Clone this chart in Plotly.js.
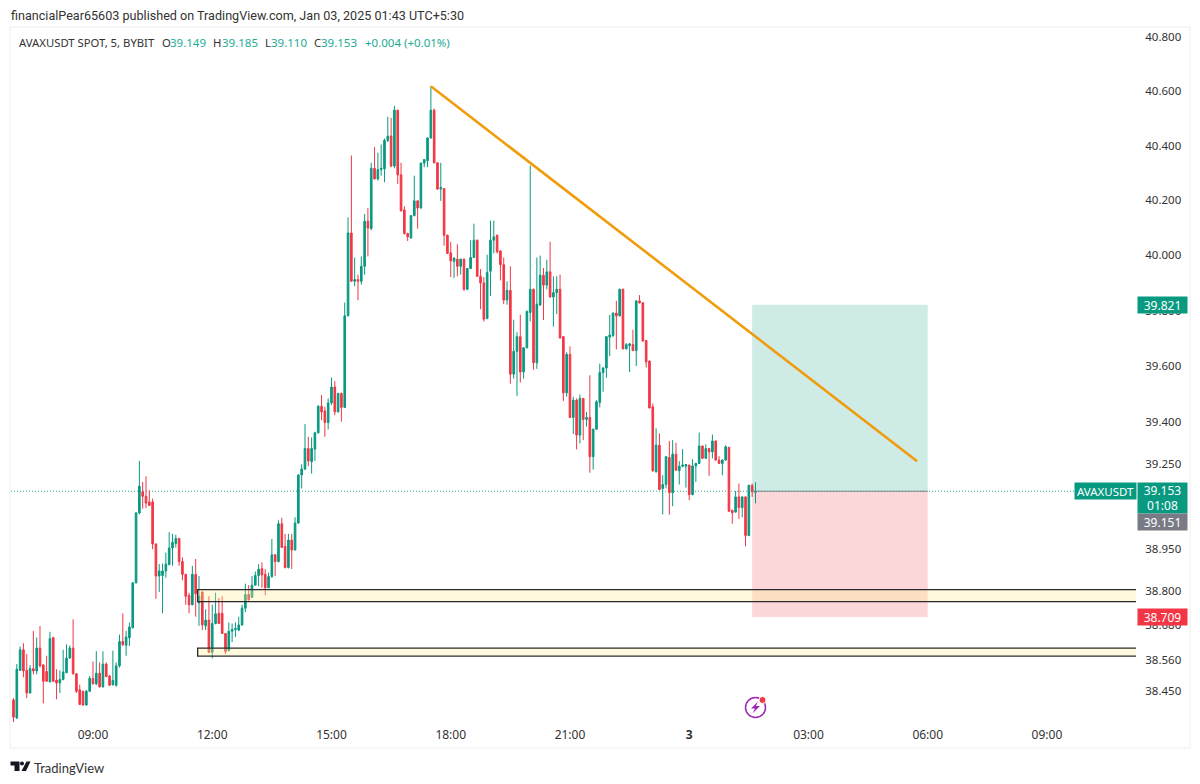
<!DOCTYPE html>
<html><head><meta charset="utf-8">
<script src="https://cdn.plot.ly/plotly-3.0.1.min.js"></script>
<style>html,body{margin:0;padding:0;background:#fff}#c{width:1200px;height:784px}</style>
</head><body><div id="c"></div>
<script>
const openPrices=[38.419,38.356,38.522,38.594,38.522,38.443,38.528,38.520,38.600,38.541,
38.518,38.482,38.637,38.488,38.478,38.490,38.514,38.565,38.600,38.510,
38.454,38.449,38.401,38.449,38.494,38.475,38.512,38.464,38.544,38.502,
38.472,38.470,38.538,38.623,38.610,38.636,38.671,38.829,39.076,39.151,
39.135,39.115,39.115,38.966,38.853,38.855,38.871,38.893,38.952,38.968,
38.986,38.904,38.859,38.785,38.752,38.859,38.758,38.797,38.678,38.698,
38.585,38.686,38.722,38.722,38.651,38.591,38.659,38.665,38.663,38.681,
38.740,38.788,38.778,38.821,38.855,38.879,38.859,38.812,38.851,38.928,
38.904,39.038,38.958,38.883,38.980,38.945,39.040,39.211,39.232,39.305,
39.258,39.303,39.361,39.456,39.439,39.398,39.468,39.525,39.436,39.502,
39.452,39.781,40.081,39.906,39.912,39.906,39.960,40.124,40.097,40.317,
40.278,40.312,40.315,40.419,40.435,40.325,40.530,40.293,40.165,40.079,
40.063,40.144,40.198,40.172,40.336,40.345,40.428,40.530,40.337,40.241,
40.243,40.073,40.009,39.978,39.986,39.960,39.986,39.877,39.952,39.992,
40.055,39.924,39.900,39.771,39.942,40.055,40.073,40.016,39.966,39.838,
39.873,39.571,39.653,39.706,39.579,39.666,39.793,39.877,39.612,39.820,
39.928,39.892,39.940,39.849,39.865,39.877,39.706,39.504,39.642,39.416,
39.478,39.353,39.484,39.409,39.416,39.276,39.374,39.470,39.577,39.593,
39.704,39.710,39.791,39.781,39.877,39.662,39.674,39.678,39.656,39.835,
39.828,39.692,39.618,39.454,39.222,39.317,39.163,39.177,39.273,39.148,
39.285,39.226,39.242,39.242,39.246,39.141,39.243,39.252,39.314,39.270,
39.305,39.293,39.332,39.264,39.252,39.264,39.309,39.085,39.079,39.133,
39.095,39.133,38.996,39.174,39.149];
const closePrices=[38.359,38.526,38.594,38.520,38.443,38.528,38.520,38.600,38.538,38.484,
38.484,38.633,38.484,38.478,38.490,38.516,38.565,38.600,38.510,38.449,
38.403,38.401,38.449,38.494,38.475,38.512,38.464,38.544,38.500,38.470,
38.487,38.538,38.623,38.612,38.639,38.674,38.829,39.076,39.171,39.135,
39.111,39.103,38.966,38.853,38.871,38.871,38.895,38.952,38.972,38.986,
38.904,38.859,38.782,38.752,38.859,38.791,38.782,38.681,38.698,38.585,
38.686,38.720,38.686,38.651,38.588,38.659,38.665,38.669,38.681,38.740,
38.788,38.770,38.821,38.855,38.877,38.857,38.812,38.851,38.928,38.904,
39.038,38.954,38.883,38.980,38.945,39.040,39.211,39.232,39.305,39.261,
39.305,39.361,39.456,39.436,39.398,39.468,39.525,39.436,39.502,39.452,
39.781,40.081,39.906,39.912,39.906,39.960,40.124,40.099,40.317,40.278,
40.312,40.317,40.419,40.435,40.325,40.530,40.293,40.162,40.079,40.067,
40.144,40.198,40.172,40.336,40.349,40.428,40.530,40.337,40.241,40.247,
40.073,40.007,39.980,39.990,39.960,39.986,39.877,39.952,39.992,40.055,
39.924,39.900,39.769,39.938,40.055,40.067,40.013,39.966,39.838,39.873,
39.571,39.653,39.706,39.579,39.666,39.797,39.877,39.612,39.823,39.928,
39.892,39.940,39.849,39.865,39.877,39.702,39.504,39.642,39.416,39.478,
39.353,39.484,39.409,39.416,39.276,39.374,39.472,39.577,39.593,39.706,
39.712,39.791,39.781,39.877,39.662,39.677,39.680,39.656,39.835,39.828,
39.690,39.615,39.450,39.226,39.317,39.159,39.177,39.276,39.148,39.285,
39.228,39.242,39.246,39.248,39.141,39.243,39.252,39.314,39.270,39.305,
39.293,39.332,39.264,39.252,39.264,39.311,39.082,39.077,39.133,39.095,
39.133,38.996,39.174,39.151,39.153];
const highPrices=[38.425,38.544,38.606,38.617,38.579,38.540,38.660,38.637,38.677,38.544,
38.573,38.657,38.639,38.526,38.522,38.594,38.613,38.609,38.701,38.512,
38.472,38.451,38.454,38.502,38.553,38.589,38.550,38.589,38.550,38.506,
38.591,38.550,38.647,38.722,38.660,38.689,38.831,39.079,39.261,39.186,
39.206,39.157,39.127,38.968,38.895,38.897,38.936,39.008,39.002,38.999,
38.987,38.919,38.861,38.794,38.889,38.913,38.853,38.799,38.736,38.782,
38.752,38.794,38.776,38.782,38.653,38.690,38.686,38.690,38.710,38.752,
38.826,38.821,38.853,38.869,38.895,38.901,38.877,38.865,38.984,38.930,
39.050,39.059,39.002,39.002,39.002,39.061,39.213,39.249,39.392,39.347,
39.345,39.365,39.460,39.496,39.454,39.484,39.559,39.546,39.504,39.505,
39.829,40.138,40.364,39.992,39.930,39.996,40.150,40.172,40.337,40.395,
40.374,40.404,40.426,40.506,40.502,40.546,40.532,40.337,40.178,40.082,
40.146,40.290,40.200,40.338,40.351,40.430,40.618,40.536,40.339,40.337,
40.245,40.075,40.049,39.992,40.040,39.988,39.988,39.954,40.055,40.115,
40.057,39.950,39.921,40.002,40.126,40.126,40.075,40.018,39.992,39.906,
39.960,39.767,39.722,39.785,39.668,39.800,40.327,39.879,39.992,39.999,
39.954,39.984,40.049,39.924,39.924,39.930,39.708,39.650,39.671,39.490,
39.484,39.498,39.486,39.436,39.567,39.376,39.478,39.609,39.597,39.708,
39.785,39.793,39.835,39.879,39.879,39.683,39.683,39.731,39.837,39.856,
39.830,39.694,39.620,39.466,39.377,39.359,39.210,39.278,39.332,39.335,
39.326,39.260,39.303,39.250,39.248,39.267,39.254,39.362,39.316,39.320,
39.307,39.355,39.334,39.278,39.266,39.317,39.311,39.088,39.154,39.180,
39.135,39.135,39.176,39.180,39.185];
const lowPrices=[38.341,38.353,38.520,38.498,38.425,38.441,38.508,38.508,38.532,38.407,
38.482,38.480,38.482,38.421,38.443,38.487,38.512,38.563,38.508,38.443,
38.401,38.399,38.399,38.447,38.472,38.470,38.463,38.463,38.499,38.469,
38.469,38.465,38.532,38.607,38.573,38.607,38.669,38.827,39.071,39.091,
39.093,39.101,38.948,38.773,38.797,38.722,38.847,38.892,38.889,38.954,
38.889,38.838,38.752,38.722,38.750,38.710,38.678,38.663,38.663,38.583,
38.564,38.683,38.685,38.650,38.579,38.589,38.621,38.639,38.659,38.679,
38.726,38.766,38.776,38.820,38.817,38.812,38.785,38.810,38.847,38.853,
38.901,38.952,38.880,38.880,38.878,38.943,39.038,39.163,39.228,39.242,
39.216,39.261,39.359,39.406,39.347,39.373,39.460,39.424,39.433,39.401,
39.450,39.779,39.905,39.888,39.837,39.894,39.930,39.996,40.091,40.276,
40.272,40.290,40.266,40.413,40.321,40.317,40.260,40.159,40.075,40.052,
40.061,40.142,40.097,40.170,40.321,40.321,40.426,40.335,40.238,40.198,
40.035,40.005,39.921,39.918,39.924,39.930,39.871,39.874,39.950,39.990,
39.922,39.805,39.760,39.769,39.853,40.007,40.007,39.909,39.823,39.821,
39.537,39.555,39.493,39.541,39.555,39.664,39.761,39.587,39.590,39.817,
39.766,39.877,39.847,39.742,39.787,39.698,39.475,39.490,39.414,39.357,
39.302,39.323,39.335,39.383,39.219,39.230,39.372,39.452,39.508,39.558,
39.636,39.704,39.660,39.779,39.660,39.660,39.579,39.654,39.600,39.825,
39.688,39.595,39.448,39.222,39.220,39.157,39.071,39.163,39.070,39.100,
39.226,39.177,39.238,39.166,39.121,39.139,39.186,39.250,39.268,39.268,
39.208,39.270,39.262,39.250,39.210,39.262,39.080,39.038,39.077,39.055,
39.061,38.958,38.994,39.133,39.110];

const priceTicks=[40.8,40.6,40.4,40.2,40.0,39.8,39.6,39.4,39.25,38.95,38.8,38.68,38.56,38.45];
const priceTickText=priceTicks.map(v=>v.toFixed(3));
const timeTicks=['2025-01-02 09:00','2025-01-02 12:00','2025-01-02 15:00','2025-01-02 18:00','2025-01-02 21:00','2025-01-03 00:00','2025-01-03 03:00','2025-01-03 06:00','2025-01-03 09:00'];
const timeTickText=['09:00','12:00','15:00','18:00','21:00','<b>3</b>','03:00','06:00','09:00'];

const GREEN='#089981',RED='#F23645',FONT='"Noto Sans",sans-serif',FONT2='Roboto,sans-serif',VAL='#22ab94';
const W=1200,H=784,L=11,R=1136,T=27,B=722;
const px=x=>(x-L)/(R-L), py=y=>(B-y)/(B-T);
const t0=Date.UTC(2025,0,2,7,0);
const times=openPrices.map((_,i)=>new Date(t0+i*300000).toISOString().slice(0,16).replace('T',' '));

const trace={type:'candlestick',x:times,open:openPrices,high:highPrices,low:lowPrices,close:closePrices,
 increasing:{line:{color:GREEN,width:1},fillcolor:GREEN},
 decreasing:{line:{color:RED,width:1},fillcolor:RED},
 whiskerwidth:0,hoverinfo:'skip',showlegend:false};

const pShape=(path,extra)=>Object.assign({type:'path',xref:'paper',yref:'paper',path,line:{width:0},layer:'above'},extra);
const P=(x,y)=>px(x).toFixed(5)+','+py(y).toFixed(5);
const shapes=[
 {type:'rect',xref:'paper',yref:'paper',x0:px(10),x1:px(1190),y0:py(748),y1:py(27),line:{color:'#eeeeee',width:1},layer:'below'},
 {type:'rect',xref:'x',yref:'y',x0:'2025-01-03 01:35',x1:'2025-01-03 06:00',y0:39.153,y1:39.821,fillcolor:'rgba(8,153,129,0.2)',line:{width:0},layer:'below'},
 {type:'rect',xref:'x',yref:'y',x0:'2025-01-03 01:35',x1:'2025-01-03 06:00',y0:38.709,y1:39.153,fillcolor:'rgba(242,54,69,0.2)',line:{width:0},layer:'below'},
 {type:'line',xref:'paper',yref:'y',x0:0,x1:1,y0:39.153,y1:39.153,line:{color:'#2fae9a',width:1,dash:'1px,2px'},layer:'below'},
 {type:'line',xref:'x',yref:'y',x0:'2025-01-03 01:35',x1:'2025-01-03 06:00',y0:39.153,y1:39.153,line:{color:'#7b8a88',width:1},layer:'above'},
 {type:'rect',xref:'x',yref:'y',x0:'2025-01-02 11:38',x1:'2025-01-03 11:30',y0:38.763,y1:38.805,fillcolor:'rgba(255,238,150,0.32)',line:{color:'#2a2a2a',width:1.3},layer:'above'},
 {type:'rect',xref:'x',yref:'y',x0:'2025-01-02 11:38',x1:'2025-01-03 11:30',y0:38.572,y1:38.600,fillcolor:'rgba(255,238,150,0.32)',line:{color:'#2a2a2a',width:1.3},layer:'above'},
 {type:'line',xref:'x',yref:'y',x0:'2025-01-02 17:30',x1:'2025-01-03 05:44',y0:40.618,y1:39.26,line:{color:'#F09C0C',width:2.6},layer:'above'},
 // TradingView logo
 pShape(`M${P(10.5,761.5)} L${P(19.5,761.5)} L${P(19.5,771)} L${P(14.5,771)} L${P(14.5,765.5)} L${P(10.5,765.5)} Z`,{fillcolor:'#131722'}),
 pShape(`M${P(26.5,761.5)} L${P(30.5,761.5)} L${P(26,771)} L${P(21.5,771)} Z`,{fillcolor:'#131722'}),
 {type:'circle',xref:'paper',yref:'paper',x0:px(20),x1:px(24),y0:py(765.5),y1:py(761.5),fillcolor:'#131722',line:{width:0},layer:'above'},
 // bolt icon
 {type:'circle',xref:'paper',yref:'paper',x0:px(745.5),x1:px(765.5),y0:py(717.5),y1:py(697.5),fillcolor:'#ffffff',line:{color:'#9C27B0',width:1.5},layer:'above'},
 pShape(`M${P(758,701.5)} L${P(751,708.5)} L${P(755,708.5)} L${P(752.5,713.5)} L${P(760,706)} L${P(756,706)} Z`,{fillcolor:'#9C27B0'}),
 {type:'circle',xref:'paper',yref:'paper',x0:px(759),x1:px(766),y0:py(703.5),y1:py(696.5),fillcolor:RED,line:{color:'#ffffff',width:1},layer:'above'}
];

const ann=(text,x,y,o)=>Object.assign({text,xref:'paper',yref:'paper',x:px(x-2),y:py(y),showarrow:false,xanchor:'left',yanchor:'middle',
 font:{family:FONT,size:12,color:'#131722'}},o||{});
const tag=(text,x,yMid,w,h,bg,size)=>ann(text,x+2,yMid,{bgcolor:bg,width:w,height:h,borderpad:0,align:'center',valign:'middle',font:{family:FONT,size:size||12,color:'#ffffff'}});
const lg=(text,x,col)=>ann(text,x,43,{font:{family:FONT,size:col?11.5:11.3,color:col||'#333333'}});
const annotations=[
 ann('financialPear65603 published on TradingView.com, Jan 03, 2025 01:43 UTC+5:30',11,16,{font:{family:FONT2,size:12.6,color:'#333333'}}),
 lg('AVAXUSDT SPOT, 5, BYBIT',19),
 lg('O',162),lg('39.149',170,VAL),
 lg('H',213),lg('39.185',222,VAL),
 lg('L',265),lg('39.110',271,VAL),
 lg('C',314),lg('39.153',321,VAL),
 lg('+0.004 (+0.01%)',365,VAL),
 ann('TradingView',34,767.5,{font:{family:'Lato,sans-serif',size:13,color:'#333333'}}),
 tag('39.821',1137,305,49,16,GREEN),
 tag('AVAXUSDT',1074,491,61,16,GREEN,11.5),
 tag('39.153<br>01:08',1137,497.5,49,30,GREEN),
 tag('39.151',1137,522,49,16,'#787B86'),
 tag('38.709',1137,617,49,16,RED)
];

const layout={width:W,height:H,autosize:false,paper_bgcolor:'#ffffff',plot_bgcolor:'#ffffff',showlegend:false,
 margin:{l:L,r:W-R,t:T,b:H-B,pad:0},
 font:{family:FONT,size:12,color:'#333333'},
 xaxis:{type:'date',range:['2025-01-02 06:56:14','2025-01-03 11:14:24'],rangeslider:{visible:false},showgrid:false,zeroline:false,showline:false,
  tickmode:'array',tickvals:timeTicks,ticktext:timeTickText,ticks:'outside',ticklen:2,tickcolor:'rgba(0,0,0,0)',tickfont:{family:FONT,size:12,color:'#333333'}},
 yaxis:{type:'log',side:'right',range:[1.583675,1.611054],showgrid:false,zeroline:false,showline:false,
  tickmode:'array',tickvals:priceTicks,ticktext:priceTickText,ticks:'outside',ticklen:6,tickcolor:'rgba(0,0,0,0)',tickfont:{family:FONT,size:11.5,color:'#333333'}},
 shapes,annotations};
Plotly.newPlot('c',[trace],layout,{displayModeBar:false,staticPlot:true});
</script></body></html>
